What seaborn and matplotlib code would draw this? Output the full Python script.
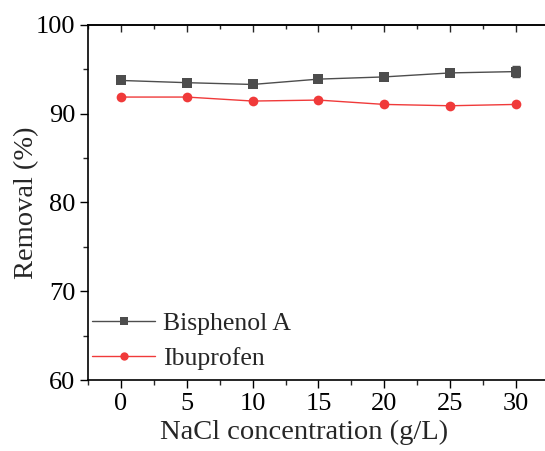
import matplotlib
matplotlib.use("Agg")
import matplotlib.pyplot as plt
import seaborn as sns
import pandas as pd
from matplotlib.ticker import MultipleLocator

nacl = [0, 5, 10, 15, 20, 25, 30]
bpa = [93.75, 93.5, 93.3, 93.9, 94.15, 94.6, 94.75]
bpa_err = [0.1, 0.1, 0.1, 0.1, 0.1, 0.15, 0.65]
ibu = [91.88, 91.88, 91.43, 91.54, 91.05, 90.9, 91.05]
ibu_err = [0.1, 0.1, 0.1, 0.1, 0.1, 0.15, 0.1]
series_names = ["Bisphenol A", "Ibuprofen"]

sns.set_theme(style="ticks")
plt.rcParams['font.family'] = ['Liberation Serif', 'DejaVu Serif']

df = pd.DataFrame({
    "x": nacl + nacl,
    "y": bpa + ibu,
    "s": [series_names[0]] * len(nacl) + [series_names[1]] * len(nacl),
})

fig = plt.figure(figsize=(5.45, 4.51), dpi=100)
ax = fig.add_axes([0.1615, 0.1574, 0.8385, 0.7872])

colors = {"Bisphenol A": "#4d4d4d", "Ibuprofen": "#f03a3a"}
sns.lineplot(data=df, x="x", y="y", hue="s", style="s", palette=colors,
             markers={"Bisphenol A": "s", "Ibuprofen": "o"}, dashes=False,
             markersize=7, linewidth=1.0, markeredgewidth=0, ax=ax)
ax.errorbar(nacl, bpa, yerr=bpa_err, fmt="none", ecolor="#4d4d4d",
            elinewidth=1, capsize=3, zorder=5)
ax.errorbar(nacl, ibu, yerr=ibu_err, fmt="none", ecolor="#f03a3a",
            elinewidth=1, capsize=3, zorder=5)

ax.set_xlim(-2.5, 32.2)
ax.set_ylim(60, 100)
ax.xaxis.set_major_locator(MultipleLocator(5))
ax.xaxis.set_minor_locator(MultipleLocator(2.5))
ax.yaxis.set_major_locator(MultipleLocator(10))
ax.yaxis.set_minor_locator(MultipleLocator(5))
ax.tick_params(axis="both", which="major", direction="out", length=6,
               width=1, labelsize=19, colors="black", pad=3)
ax.tick_params(axis="both", which="minor", direction="out", length=3.5, width=1)
for sp in ["left", "bottom", "top"]:
    ax.spines[sp].set_visible(True)
    ax.spines[sp].set_linewidth(1.2)
    ax.spines[sp].set_color("black")
ax.spines["right"].set_visible(False)

top = ax.secondary_xaxis("top")
top.xaxis.set_major_locator(MultipleLocator(5))
top.xaxis.set_minor_locator(MultipleLocator(2.5))
top.tick_params(which="major", direction="in", length=5, width=1, labeltop=False)
top.tick_params(which="minor", direction="in", length=3, width=1)
top.spines["top"].set_linewidth(1.2)

ax.set_xlabel("NaCl concentration (g/L)", fontsize=20.5)
ax.xaxis.set_label_coords(0.473, -0.112)
ax.set_ylabel("Removal (%)", fontsize=20.5, labelpad=-2)

leg = ax.legend(loc="lower left", bbox_to_anchor=(-0.013, 0.0), frameon=False,
                fontsize=18.5, handlelength=2.45, handletextpad=0.3,
                labelspacing=0.45, borderaxespad=0.0)
for h in leg.legend_handles:
    h.set_markersize(6)

fig.savefig("out.png", dpi=100)
